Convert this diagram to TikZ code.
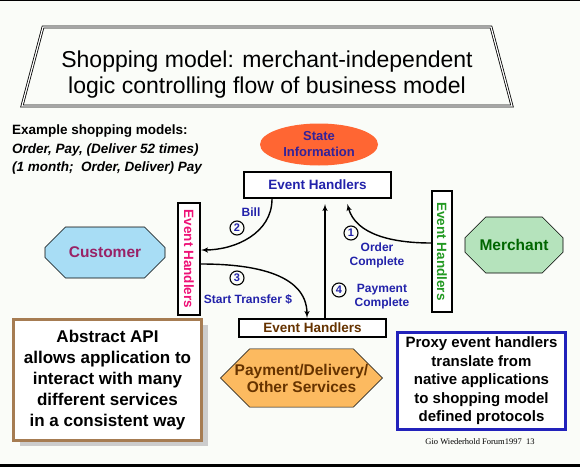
\documentclass[tikz,border=0pt]{standalone}
\usepackage{fontspec}
\setmainfont{Liberation Sans}
\newfontfamily\footfont{Liberation Serif}
\usetikzlibrary{shapes,arrows,shadows}
\definecolor{paper}{RGB}{250,252,248}
\definecolor{lblue}{RGB}{34,34,170}
\definecolor{stateorange}{RGB}{255,102,51}
\definecolor{statetext}{RGB}{51,34,153}
\definecolor{custfill}{RGB}{168,221,245}
\definecolor{custtext}{RGB}{153,34,102}
\definecolor{merchfill}{RGB}{181,227,188}
\definecolor{merchtext}{RGB}{0,102,0}
\definecolor{payfill}{RGB}{252,186,96}
\definecolor{brownish}{RGB}{102,51,0}
\definecolor{pinkish}{RGB}{238,17,119}
\definecolor{greenish}{RGB}{34,153,34}
\definecolor{apibrown}{RGB}{166,124,82}
\definecolor{proxyblue}{RGB}{34,34,187}
\tikzstyle{handler} = [rectangle, draw, line width=2pt, fill=white,
    font=\bfseries\fontsize{13.5}{16}\selectfont, inner sep=0pt]
\tikzstyle{octa} = [chamfered rectangle, chamfered rectangle xsep=15pt,
    chamfered rectangle ysep=15pt, draw, line width=0.6pt, inner sep=0pt,
    align=center, font=\bfseries\fontsize{15.5}{18}\selectfont]
\tikzstyle{line} = [draw, line width=1.4pt, -latex']
\tikzstyle{numcirc} = [circle, draw, line width=1.1pt, inner sep=0pt,
    minimum size=14pt, text=lblue, font=\bfseries\fontsize{11}{11}\selectfont]
\tikzstyle{lbl} = [text=lblue, align=center, inner sep=0pt,
    font=\bfseries\fontsize{12}{14}\selectfont]
\tikzstyle{note} = [rectangle, draw, line width=3pt, fill=white, align=center,
    inner sep=0pt]

\begin{document}
\begin{tikzpicture}[x=1pt, y=1pt]
  \fill [paper] (0,0) rectangle (580,467);
  \useasboundingbox (0,0) rectangle (580,467);
  \draw [line width=1.5pt] (0,466.5) -- (580,466.5);
  \fill [black] (0,0) rectangle (580,3);

  % Title
  \draw [double, double distance=1.2pt, line width=0.8pt]
    (43,440) -- (491,440) -- (512,361) -- (22,361) -- cycle;
  \node [align=center, font=\fontsize{23}{26}\selectfont] (title) at (267,392)
    {Shopping model: merchant-independent\\logic controlling flow of business model};
  \node [anchor=north west, align=left, inner sep=0pt,
    font=\bfseries\fontsize{13.5}{18.5}\selectfont] (models) at (12,342)
    {Example shopping models:\\\textit{Order, Pay, (Deliver 52 times)}\\
     \textit{(1 month;\ \ Order, Deliver) Pay}};

  % Place nodes
  \node [ellipse, fill=stateorange, minimum width=118pt, minimum height=42pt,
    inner sep=0pt, align=center, text=statetext,
    font=\bfseries\fontsize{13}{16}\selectfont] (state) at (319,322.5)
    {State\\Information};
  \node [handler, text=lblue, minimum width=147pt, minimum height=26pt]
    (ehtop) at (317.5,282) {Event Handlers};
  \node [handler, text=pinkish, rotate=-90, minimum width=112pt,
    minimum height=22pt] (ehleft) at (189,208) {Event Handlers};
  \node [handler, text=greenish, rotate=-90, minimum width=121pt,
    minimum height=20pt] (ehright) at (442,215.5) {Event Handlers};
  \node [handler, text=brownish, minimum width=147pt, minimum height=18pt]
    (ehbot) at (312.5,139) {Event Handlers};
  \node [octa, fill=custfill, text=custtext, minimum width=120pt,
    minimum height=51pt] (customer) at (105,214.5) {Customer};
  \node [octa, fill=merchfill, text=merchtext, minimum width=98pt,
    minimum height=56pt] (merchant) at (514,222) {Merchant};
  \node [octa, fill=payfill, text=brownish, minimum width=157pt,
    minimum height=58pt, font=\bfseries\fontsize{15.5}{17}\selectfont]
    (services) at (301.5,89) {Payment/Delivery/\\Other Services};

  % Draw edges
  \path [line] ([xshift=-45.5pt]ehtop.south) to[out=-90, in=0]
    ([yshift=9pt]ehleft.north);
  \path [line] ([yshift=-5pt]ehleft.north) to[out=0, in=90]
    ([xshift=-5.5pt]ehbot.north);
  \path [line, shorten >=5pt] ([xshift=12.5pt]ehbot.north) --
    ([xshift=7.5pt]ehtop.south);
  \path [line, shorten >=5pt] ([yshift=8.5pt]ehright.south) to[out=180, in=-75]
    ([xshift=28.5pt]ehtop.south);

  % Comments
  \node [numcirc] (n2) at (237,239) {2};
  \node [lbl] (bill) at (251,255) {Bill};
  \node [numcirc] (n3) at (237,189) {3};
  \node [lbl] (transfer) at (248,168) {Start Transfer \$};
  \node [numcirc] (n4) at (339,177) {4};
  \node [lbl] (paid) at (382,170) {Payment\\Complete};
  \node [numcirc] (n1) at (351,234) {1};
  \node [lbl] (ordered) at (377,212) {Order\\Complete};

  % Notes
  \node [note, draw=apibrown, minimum width=188pt, minimum height=121pt,
    drop shadow={shadow xshift=6pt, shadow yshift=-5pt, fill=black!20, opacity=1},
    font=\bfseries\fontsize{17}{21}\selectfont] (api) at (107.5,87)
    {Abstract API\\allows application to\\interact with many\\different services\\in a consistent way};
  \node [note, draw=proxyblue, minimum width=168pt, minimum height=97pt,
    font=\bfseries\fontsize{15}{18.5}\selectfont] (proxy) at (481.5,86)
    {Proxy event handlers\\translate from\\native applications\\to shopping model\\defined protocols};
  \node [font=\footfont\fontsize{8.5}{10}\selectfont] (credit) at (480,25)
    {Gio Wiederhold Forum1997\ \ 13};
\end{tikzpicture}
\end{document}
